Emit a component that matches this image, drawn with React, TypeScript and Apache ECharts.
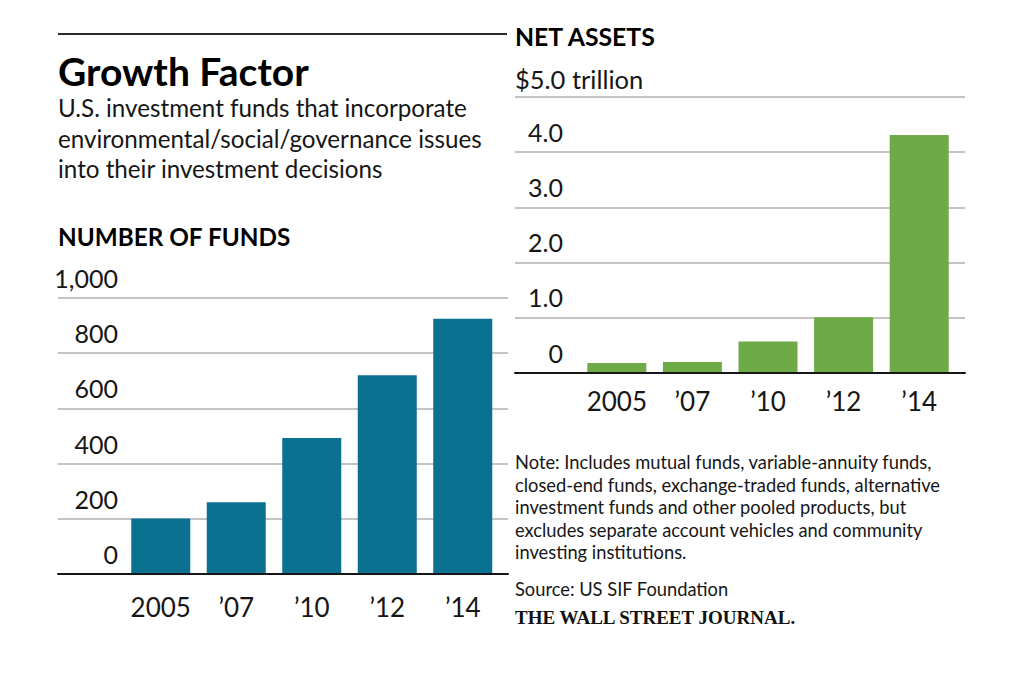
import React, { useEffect, useRef } from "react";
import * as echarts from "echarts";

const years = ["2005", "\u201907", "\u201910", "\u201912", "\u201914"];
const fundCounts = [201, 260, 493, 720, 925];
const netAssets = [0.18, 0.2, 0.57, 1.01, 4.31];
const fundTickLabels = ["0", "200", "400", "600", "800", "1,000"];
const assetTickLabels = ["0", "1.0", "2.0", "3.0", "4.0", "$5.0 trillion"];

const title = "Growth Factor";
const subtitleLines = [
  "U.S. investment funds that incorporate",
  "environmental/social/governance issues",
  "into their investment decisions",
];
const leftHeading = "NUMBER OF FUNDS";
const rightHeading = "NET ASSETS";
const noteText = [
  "Note: Includes mutual funds, variable-annuity funds,",
  "closed-end funds, exchange-traded funds, alternative",
  "investment funds and other pooled products, but",
  "excludes separate account vehicles and community",
  "investing institutions.",
];
const sourceText = "Source: US SIF Foundation";
const brandText = "THE WALL STREET JOURNAL.";

const SANS = "Lato, 'Noto Sans', sans-serif";
const BLUE = "#0b7190";
const GREEN = "#6eaa46";
const GRID_GRAY = "#c4c4c4";
const INK = "#161616";

export default function App() {
  const ref = useRef<HTMLDivElement>(null);

  useEffect(() => {
    if (!ref.current) return;
    const chart = echarts.init(ref.current, undefined, { renderer: "svg" });

    const catLabel = (margin: number) => ({
      fontSize: 26,
      lineHeight: 26,
      margin,
      interval: 0,
      color: INK,
      fontFamily: SANS,
    });

    const option: any = {
      animation: false,
      backgroundColor: "#ffffff",
      grid: [
        { left: 123, top: 298, width: 377.5, height: 276 },
        { left: 58, top: 298, width: 450, height: 276 },
        { left: 579, top: 97, width: 378, height: 276 },
        { left: 515, top: 97, width: 450, height: 276 },
      ],
      xAxis: [
        {
          gridIndex: 0,
          type: "category",
          data: years,
          axisLine: { show: false },
          axisTick: { show: false },
          axisLabel: catLabel(20),
        },
        {
          gridIndex: 1,
          type: "value",
          min: 0,
          max: 1,
          z: 5,
          axisLine: { show: true, lineStyle: { color: INK, width: 2 } },
          axisTick: { show: false },
          axisLabel: { show: false },
          splitLine: { show: false },
        },
        {
          gridIndex: 2,
          type: "category",
          data: years,
          axisLine: { show: false },
          axisTick: { show: false },
          axisLabel: catLabel(15),
        },
        {
          gridIndex: 3,
          type: "value",
          min: 0,
          max: 1,
          z: 5,
          axisLine: { show: true, lineStyle: { color: INK, width: 2 } },
          axisTick: { show: false },
          axisLabel: { show: false },
          splitLine: { show: false },
        },
      ],
      yAxis: [
        { gridIndex: 0, type: "value", min: 0, max: 1000, interval: 200, show: false },
        {
          gridIndex: 1,
          type: "value",
          min: 0,
          max: 1000,
          interval: 200,
          axisLine: { show: false },
          axisTick: { show: false },
          splitLine: { show: true, lineStyle: { color: GRID_GRAY, width: 2 } },
          axisLabel: {
            inside: true,
            align: "right",
            margin: 60,
            verticalAlign: "bottom",
            lineHeight: 40,
            fontSize: 25,
            color: INK,
            fontFamily: SANS,
            formatter: (v: number) => fundTickLabels[Math.round(v / 200)] ?? "",
          },
        },
        { gridIndex: 2, type: "value", min: 0, max: 5, interval: 1, show: false },
        {
          gridIndex: 3,
          type: "value",
          min: 0,
          max: 5,
          interval: 1,
          axisLine: { show: false },
          axisTick: { show: false },
          splitLine: { show: true, lineStyle: { color: GRID_GRAY, width: 2 } },
          axisLabel: {
            inside: true,
            align: "right",
            margin: 48,
            verticalAlign: "bottom",
            lineHeight: 41,
            fontSize: 25,
            color: INK,
            fontFamily: SANS,
            formatter: (v: number) => {
              const i = Math.round(v);
              return i === assetTickLabels.length - 1 ? "" : assetTickLabels[i] ?? "";
            },
          },
        },
      ],
      series: [
        {
          type: "bar",
          xAxisIndex: 0,
          yAxisIndex: 0,
          data: fundCounts,
          barWidth: 59,
          itemStyle: { color: BLUE },
          z: 3,
        },
        {
          type: "bar",
          xAxisIndex: 2,
          yAxisIndex: 2,
          data: netAssets,
          barWidth: 59,
          itemStyle: { color: GREEN },
          z: 3,
        },
      ],
      graphic: [
        {
          type: "line",
          shape: { x1: 58, y1: 34, x2: 507, y2: 34 },
          style: { stroke: "#2a2a2a", lineWidth: 2 },
        },
        {
          type: "text",
          x: 58,
          y: 71,
          style: {
            text: title,
            fontSize: 39,
            fontWeight: "bold",
            fontFamily: SANS,
            fill: "#000",
            verticalAlign: "middle",
          },
        },
        {
          type: "text",
          x: 58,
          y: 92.5,
          style: {
            text: subtitleLines.join("\n"),
            fontSize: 24.2,
            lineHeight: 30.5,
            fontFamily: SANS,
            fill: INK,
            verticalAlign: "top",
          },
        },
        {
          type: "text",
          x: 58,
          y: 236,
          style: {
            text: leftHeading,
            fontSize: 24.3,
            fontWeight: "bold",
            fontFamily: SANS,
            fill: "#000",
            verticalAlign: "middle",
          },
        },
        {
          type: "text",
          x: 515,
          y: 36,
          style: {
            text: rightHeading,
            fontSize: 24.8,
            fontWeight: "bold",
            fontFamily: SANS,
            fill: "#000",
            verticalAlign: "middle",
          },
        },
        {
          type: "text",
          x: 515,
          y: 79,
          style: {
            text: assetTickLabels[assetTickLabels.length - 1],
            fontSize: 25.5,
            fontFamily: SANS,
            fill: INK,
            verticalAlign: "middle",
          },
        },
        {
          type: "text",
          x: 515,
          y: 450.7,
          style: {
            text: noteText.join("\n"),
            fontSize: 18.3,
            lineHeight: 22.6,
            fontFamily: SANS,
            fill: INK,
            verticalAlign: "top",
          },
        },
        {
          type: "text",
          x: 515,
          y: 588.5,
          style: {
            text: sourceText,
            fontSize: 18.3,
            fontFamily: SANS,
            fill: INK,
            verticalAlign: "middle",
          },
        },
        {
          type: "text",
          x: 515,
          y: 617.5,
          style: {
            text: brandText,
            fontSize: 19,
            fontWeight: "bold",
            fontFamily: "'Liberation Serif', 'DejaVu Serif', serif",
            fill: "#111",
            verticalAlign: "middle",
          },
        },
      ],
    };

    chart.setOption(option);
    return () => chart.dispose();
  }, []);

  return (
    <div
      ref={ref}
      style={{ position: "fixed", left: 0, top: 0, width: 1024, height: 695, background: "#fff" }}
    />
  );
}
